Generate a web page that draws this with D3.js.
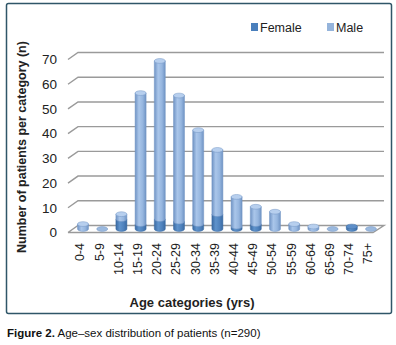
<!DOCTYPE html>
<html>
<head>
<meta charset="utf-8">
<script src="https://cdn.jsdelivr.net/npm/d3@7"></script>
<style>
  body { margin: 0; background: #fff; }
  svg text { font-family: "Liberation Sans", Arial, sans-serif; }
</style>
</head>
<body>
<div id="chart"></div>
<script>
const categories = ["0-4", "5-9", "10-14", "15-19", "20-24", "25-29", "30-34", "35-39",
    "40-44", "45-49", "50-54", "55-59", "60-64", "65-69", "70-74", "75+"];
const female = [0, 0, 4, 2, 4, 3, 2, 6, 1, 2, 0, 0, 0, 0, 1, 0];
const male = [2, 0, 2, 53, 64, 51, 38, 26, 12, 7, 7, 2, 1, 0, 0, 0];
const yTicks = [0, 10, 20, 30, 40, 50, 60, 70];

const width = 396;
const height = 345;
const depth = 3.5; // half depth of the 3d floor

const svg = d3.select("#chart")
    .append("svg")
    .attr("width", width)
    .attr("height", height);

const defs = svg.append("defs");
function cylGradient(id, edge, mid, light) {
    const g = defs.append("linearGradient").attr("id", id)
        .attr("x1", "0%").attr("x2", "100%").attr("y1", "0%").attr("y2", "0%");
    g.append("stop").attr("offset", "0%").attr("stop-color", edge);
    g.append("stop").attr("offset", "35%").attr("stop-color", light);
    g.append("stop").attr("offset", "70%").attr("stop-color", mid);
    g.append("stop").attr("offset", "100%").attr("stop-color", edge);
}
cylGradient("gMale", "#6f93c4", "#96b6df", "#aac6ea");
cylGradient("gFemale", "#3a6aa3", "#4f82bd", "#5f93cc");

// frame
svg.append("rect")
    .attr("x", 6.5).attr("y", 3.5)
    .attr("width", 385).attr("height", 310)
    .attr("rx", 2)
    .attr("fill", "#fff")
    .attr("stroke", "#2f5668")
    .attr("stroke-width", 1.5);

const xScale = d3.scalePoint().domain(categories).range([80, 368]);
const yScale = d3.scaleLinear().domain([0, 70]).range([229, 56]);

const floorLeft = 68, floorRight = 373;

// gridlines (3d: front diagonal + back wall line)
yTicks.forEach(v => {
    const yb = yScale(v) - depth, yf = yScale(v) + depth;
    const pts = v === 0
        ? [[floorLeft, yf], [floorLeft + 10, yb], [floorRight + 11, yb], [floorRight, yf], [floorLeft, yf]]
        : [[floorLeft, yf], [floorLeft + 10, yb], [floorRight + 11, yb]];
    svg.append("path")
        .attr("d", d3.line()(pts))
        .attr("fill", "none")
        .attr("stroke", "#9a9a9a")
        .attr("stroke-width", 1.4);
    svg.append("text")
        .attr("x", 57)
        .attr("y", yf)
        .attr("dy", "0.35em")
        .attr("text-anchor", "end")
        .style("font-size", "13.5px")
        .attr("fill", "#222")
        .text(v);
});

// cylinders
const rx = 5.5, ry = 2.4;
function segment(cx, v0, v1, fillId, edge) {
    const yTop = yScale(v1), yBot = yScale(v0);
    svg.append("path")
        .attr("d", `M${cx - rx},${yTop} L${cx - rx},${yBot} A${rx},${ry} 0 0 0 ${cx + rx},${yBot} L${cx + rx},${yTop} Z`)
        .attr("fill", `url(#${fillId})`)
        .attr("stroke", edge)
        .attr("stroke-width", 0.5);
}
categories.forEach((c, i) => {
    const cx = xScale(c) + 3;
    const f = female[i], m = male[i];
    if (f + m === 0) {
        svg.append("ellipse")
            .attr("cx", cx).attr("cy", yScale(0))
            .attr("rx", rx).attr("ry", ry)
            .attr("fill", "#9bb9de").attr("stroke", "#7596c4").attr("stroke-width", 0.5);
        return;
    }
    if (f > 0) segment(cx, 0, f, "gFemale", "#3a6aa3");
    if (m > 0) segment(cx, f, f + m, "gMale", "#7596c4");
    svg.append("ellipse")
        .attr("cx", cx).attr("cy", yScale(f + m))
        .attr("rx", rx).attr("ry", ry)
        .attr("fill", m > 0 ? "#b7cfee" : "#5d8ec8")
        .attr("stroke", m > 0 ? "#7596c4" : "#3a6aa3")
        .attr("stroke-width", 0.5);
});

// x tick labels
categories.forEach(c => {
    svg.append("text")
        .attr("transform", `translate(${xScale(c)},${243}) rotate(-90)`)
        .attr("text-anchor", "end")
        .attr("dy", "0.35em")
        .style("font-size", "12.5px")
        .attr("fill", "#222")
        .text(c);
});

// axis titles
svg.append("text")
    .attr("transform", "translate(22,147) rotate(-90)")
    .attr("text-anchor", "middle")
    .attr("dy", "0.35em")
    .style("font-size", "12.5px")
    .style("font-weight", "bold")
    .attr("fill", "#222")
    .text("Number of patients per category (n)");

svg.append("text")
    .attr("x", 192)
    .attr("y", 307)
    .attr("text-anchor", "middle")
    .style("font-size", "13px")
    .style("font-weight", "bold")
    .attr("fill", "#222")
    .text("Age categories (yrs)");

// legend
const legend = [
    { label: "Female", color: "#4a7fbc", x: 251 },
    { label: "Male", color: "#95b4db", x: 327 }
];
legend.forEach(d => {
    svg.append("rect")
        .attr("x", d.x).attr("y", 23)
        .attr("width", 7).attr("height", 8)
        .attr("fill", d.color);
    svg.append("text")
        .attr("x", d.x + 9)
        .attr("y", 31.5)
        .style("font-size", "12.5px")
        .attr("fill", "#222")
        .text(d.label);
});

// caption
const cap = svg.append("text")
    .attr("x", 7)
    .attr("y", 337)
    .style("font-size", "11.5px")
    .attr("fill", "#111");
cap.append("tspan").style("font-weight", "bold").text("Figure 2.");
cap.append("tspan").text(" Age\u2013sex distribution of patients (n=290)");
</script>
</body>
</html>
